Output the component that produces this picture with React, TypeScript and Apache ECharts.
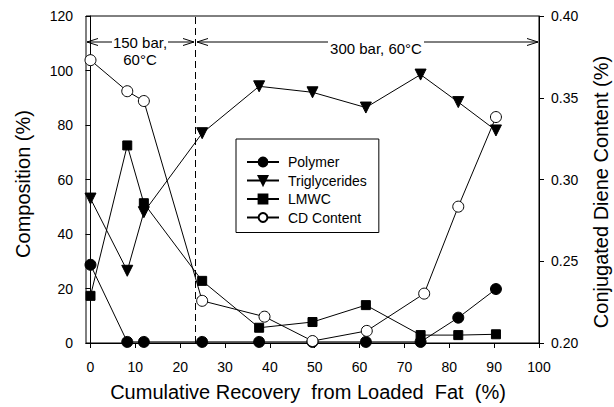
import React, { useEffect, useRef } from "react";
import * as echarts from "echarts";

const xTicks = [0, 10, 20, 30, 40, 50, 60, 70, 80, 90, 100];
const xMain = [0, 8.2, 11.9, 24.9, 37.6, 49.5, 61.4, 73.6, 82, 90.4];
const xCD = [0, 8.2, 11.9, 24.9, 38.8, 49.5, 61.6, 74.4, 82, 90.4];
const polymer = [28.7, 0.4, 0.4, 0.4, 0.4, 0.4, 0.4, 0.4, 9.3, 19.8];
const triglycerides = [53, 26.5, 48, 77, 94.2, 92, 86.4, 98.5, 88.4, 78];
const lmwc = [17.3, 72.5, 51.3, 22.8, 5.6, 7.7, 13.9, 2.9, 2.9, 3.2];
const cdContent = [0.373, 0.354, 0.348, 0.2258, 0.2161, 0.2012, 0.2074, 0.2302, 0.2834, 0.3382];
const pressureChangeX = 23.4;

const xName = "Cumulative Recovery  from Loaded  Fat  (%)";
const yLeftName = "Composition (%)";
const yRightName = "Conjugated Diene Content (%)";

const FONT = "Liberation Sans, Arial, sans-serif";

function pairs(xs: number[], ys: number[]) {
  return xs.map((x, i) => [x, ys[i]]);
}

export default function App() {
  const ref = useRef<HTMLDivElement>(null);
  useEffect(() => {
    if (!ref.current) return;
    const chart = echarts.init(ref.current, null, { renderer: "svg" });
    const baseSeries = {
      type: "line" as const,
      lineStyle: { color: "#000", width: 1 },
      itemStyle: { color: "#000", borderColor: "#000", borderWidth: 1 },
      symbolSize: 10,
      z: 3,
    };
    const nameStyle = { fontFamily: FONT, fontSize: 20, fill: "#000", align: "center", verticalAlign: "middle" };
    chart.setOption({
      animation: false,
      backgroundColor: "#fff",
      textStyle: { fontFamily: FONT },
      grid: {
        left: 86,
        right: 75,
        top: 16,
        bottom: 64,
        show: true,
        borderColor: "#000",
        borderWidth: 1,
      },
      legend: {
        orient: "vertical",
        left: 236,
        top: 139,
        itemWidth: 32,
        itemHeight: 11,
        itemGap: 4.5,
        padding: [16, 12, 8, 10],
        borderColor: "#000",
        borderWidth: 1,
        backgroundColor: "#fff",
        textStyle: { fontFamily: FONT, fontSize: 14, lineHeight: 14, color: "#000", padding: [0, 0, 0, 4] },
        data: ["Polymer", "Triglycerides", "LMWC", "CD Content"],
      },
      xAxis: {
        type: "value",
        min: -1,
        max: 100,
        axisLine: { lineStyle: { color: "#000", width: 1 } },
        axisTick: { show: true, length: 5, lineStyle: { color: "#000" }, customValues: xTicks },
        axisLabel: { fontFamily: FONT, fontSize: 14, color: "#000", margin: 17, customValues: xTicks },
        splitLine: { show: false },
      },
      yAxis: [
        {
          type: "value",
          min: 0,
          max: 120,
          interval: 20,
          axisLine: { show: true, lineStyle: { color: "#000", width: 1 } },
          axisTick: { show: true, length: 5, lineStyle: { color: "#000" } },
          axisLabel: { fontFamily: FONT, fontSize: 14, color: "#000", margin: 13 },
          splitLine: { show: false },
        },
        {
          type: "value",
          min: 0.2,
          max: 0.4,
          interval: 0.05,
          position: "right",
          axisLine: { show: true, lineStyle: { color: "#000", width: 1 } },
          axisTick: { show: true, length: 5, lineStyle: { color: "#000" } },
          axisLabel: {
            fontFamily: FONT,
            fontSize: 14,
            color: "#000",
            margin: 12,
            formatter: (v: number) => v.toFixed(2),
          },
          splitLine: { show: false },
        },
      ],
      series: [
        {
          ...baseSeries,
          name: "Polymer",
          symbol: "circle",
          symbolSize: 11,
          data: pairs(xMain, polymer),
          markLine: {
            silent: true,
            symbol: "none",
            label: { show: false },
            lineStyle: { color: "#000", type: [7, 4], width: 1 },
            data: [{ xAxis: pressureChangeX }],
          },
        },
        {
          ...baseSeries,
          name: "Triglycerides",
          symbol: "triangle",
          symbolRotate: 180,
          symbolSize: 11,
          data: pairs(xMain, triglycerides),
        },
        {
          ...baseSeries,
          name: "LMWC",
          symbol: "rect",
          symbolSize: 9,
          data: pairs(xMain, lmwc),
        },
        {
          ...baseSeries,
          name: "CD Content",
          yAxisIndex: 1,
          symbol: "circle",
          symbolSize: 11,
          itemStyle: { color: "#fff", borderColor: "#000", borderWidth: 1 },
          data: pairs(xCD, cdContent),
          z: 4,
        },
      ],
      graphic: [
        // axis names
        { type: "text", x: 308, y: 392, style: { ...nameStyle, text: xName } },
        { type: "text", x: 23, y: 184, rotation: Math.PI / 2, style: { ...nameStyle, text: yLeftName } },
        { type: "text", x: 601, y: 192, rotation: Math.PI / 2, style: { ...nameStyle, text: yRightName } },
        // 150 bar arrow
        { type: "line", shape: { x1: 87, y1: 42, x2: 112, y2: 42 }, style: { stroke: "#000", lineWidth: 1 } },
        { type: "line", shape: { x1: 168, y1: 42, x2: 194, y2: 42 }, style: { stroke: "#000", lineWidth: 1 } },
        { type: "polyline", shape: { points: [[98, 38.5], [87, 42], [98, 45.5]] }, style: { stroke: "#000", fill: null, lineWidth: 1 } },
        { type: "polyline", shape: { points: [[183, 38.5], [194, 42], [183, 45.5]] }, style: { stroke: "#000", fill: null, lineWidth: 1 } },
        {
          type: "text",
          x: 140,
          y: 42,
          style: { text: "150 bar,", fontFamily: FONT, fontSize: 15, fill: "#000", align: "center", verticalAlign: "middle" },
        },
        {
          type: "text",
          x: 140,
          y: 59,
          style: { text: "60°C", fontFamily: FONT, fontSize: 15, fill: "#000", align: "center", verticalAlign: "middle" },
        },
        // 300 bar arrow
        { type: "line", shape: { x1: 197, y1: 42, x2: 328, y2: 42 }, style: { stroke: "#000", lineWidth: 1 } },
        { type: "line", shape: { x1: 424, y1: 42, x2: 538, y2: 42 }, style: { stroke: "#000", lineWidth: 1 } },
        { type: "polyline", shape: { points: [[208, 38.5], [197, 42], [208, 45.5]] }, style: { stroke: "#000", fill: null, lineWidth: 1 } },
        { type: "polyline", shape: { points: [[527, 38.5], [538, 42], [527, 45.5]] }, style: { stroke: "#000", fill: null, lineWidth: 1 } },
        {
          type: "text",
          x: 376,
          y: 48,
          style: { text: "300 bar, 60°C", fontFamily: FONT, fontSize: 15, fill: "#000", align: "center", verticalAlign: "middle" },
        },
      ],
    });
    return () => chart.dispose();
  }, []);
  return <div ref={ref} style={{ width: 614, height: 407, position: "absolute", left: 0, top: 0 }} />;
}
